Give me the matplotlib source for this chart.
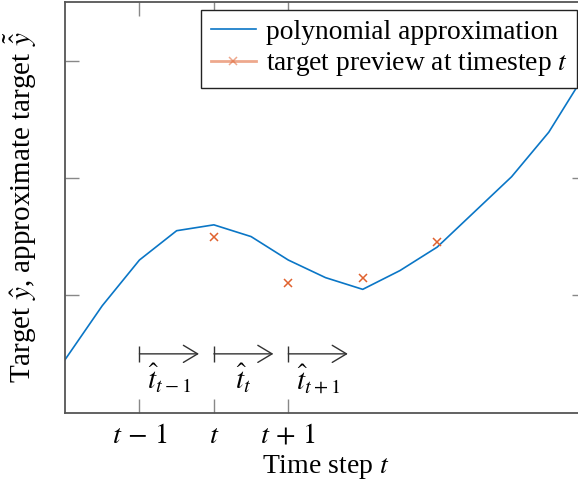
import numpy as np
import matplotlib.pyplot as plt
from matplotlib.lines import Line2D

plt.rcParams['font.family'] = ['Liberation Serif', 'DejaVu Serif']
plt.rcParams['mathtext.fontset'] = 'stix'
plt.rcParams['font.size'] = 20.5

# polynomial approximation, sampled every half step
x_poly = [0, 0.5, 1, 1.5, 2, 2.5, 3, 3.5, 4, 4.5, 5, 5.5, 6, 6.5, 7]
y_poly = [0.45, 0.91, 1.30, 1.55, 1.60, 1.50, 1.30, 1.15, 1.05, 1.21, 1.41, 1.71, 2.01, 2.39, 2.90]

# target preview points
x_prev = [2, 3, 4, 5]
y_prev = [1.50, 1.10, 1.15, 1.45]

xticks = [1, 2, 3]
xticklabels = [r'$t\,-\,1$', '$t$', r'$t\,+\,1$']
yticks = [1, 2, 3]

# horizon arrows
arrow_start = [1, 2, 3]
arrow_len = 0.8
arrow_y = 0.5
arrow_labels = [r'$\hat{t}_{t-1}$', r'$\hat{t}_{t}$', r'$\hat{t}_{t+1}$']

blue = '#0A76C6'
orange = '#E0622F'
dark = '#333333'

fig = plt.figure(figsize=(5.78, 4.86), dpi=100)
# right spine sits just past the figure edge
ax = fig.add_axes([65/578, 73.5/486, 521/578, 410.5/486])

ax.plot(x_poly, y_poly, color=blue, lw=1.2)
ax.plot(x_prev, y_prev, ls='none', marker='x', ms=6, mew=1.1, color=orange)

for x0, lab in zip(arrow_start, arrow_labels):
    ax.annotate('', xy=(x0 + arrow_len, arrow_y), xytext=(x0, arrow_y),
                arrowprops=dict(arrowstyle='->,head_length=0.5,head_width=0.3',
                                color=dark, lw=1.0, shrinkA=0, shrinkB=0))
    ax.plot(x0, arrow_y, marker='|', ms=12, mew=1.0, color=dark)
    ax.text(x0 + arrow_len / 2, 0.29, lab, ha='center', va='center', fontsize=21)

ax.set_xlim(0, 7)
ax.set_ylim(0, 3.5)
ax.set_xticks(xticks)
ax.set_xticklabels(xticklabels)
ax.set_yticks(yticks)
ax.set_yticklabels([])
ax.tick_params(direction='in', length=10, width=1, color='#888888',
               top=True, right=True, pad=8)
for s in ax.spines.values():
    s.set_color('#555555')
    s.set_linewidth(1.3)

ax.set_xlabel('Time step $t$', fontsize=20)
ax.set_ylabel(r'Target $\hat{y}$, approximate target $\tilde{\hat{y}}$', fontsize=21)
ax.xaxis.set_label_coords(0.5, -0.098)
ax.yaxis.set_label_coords(-0.049, 0.5)

handles = [Line2D([], [], color=blue, lw=1.2),
           Line2D([], [], color=orange, lw=2, alpha=0.55, marker='x', ms=6,
                  mec=orange, mew=1.1)]
leg = ax.legend(handles, ['polynomial approximation', r'target preview at timestep $t\,$'],
                loc='upper right', bbox_to_anchor=(0.9827, 0.9805),
                fancybox=False, framealpha=1, edgecolor='#222222',
                fontsize=19.8, borderaxespad=0, handlelength=1.67, handletextpad=0.33,
                borderpad=0.35, labelspacing=0.2)
leg.get_frame().set_linewidth(1.0)

fig.savefig('out.png', dpi=100)
